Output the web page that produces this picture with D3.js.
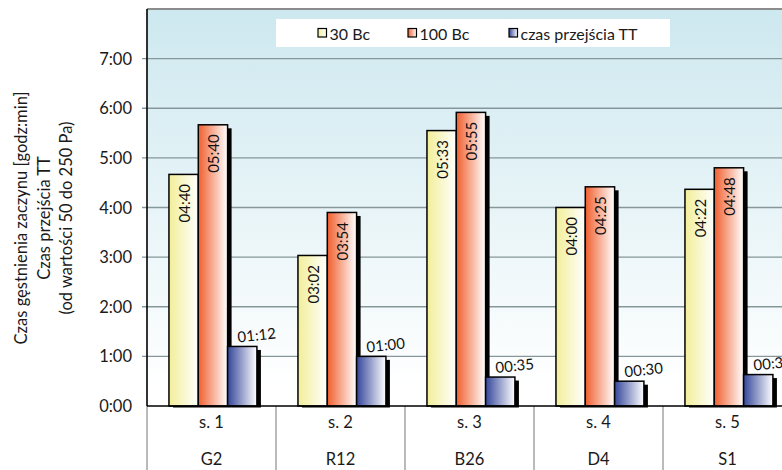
<!DOCTYPE html>
<html>
<head>
<meta charset="utf-8">
<script src="https://cdn.jsdelivr.net/npm/d3@7"></script>
<style>
  html, body { margin: 0; padding: 0; background: #ffffff; }
  svg { display: block; font-family: Lato, "Open Sans", sans-serif; }
</style>
</head>
<body>
<svg id="chart" width="782" height="470"></svg>
<script>
// Sample codes (upper row) and cement names (lower row)
const samples = ["s. 1", "s. 2", "s. 3", "s. 4", "s. 5"];
const cements = ["G2", "R12", "B26", "D4", "S1"];
// Thickening times, hh:mm
const bc30 = ["04:40", "03:02", "05:33", "04:00", "04:22"];
const bc100 = ["05:40", "03:54", "05:55", "04:25", "04:48"];
const transitionTT = ["01:12", "01:00", "00:35", "00:30", "00:38"];
const seriesNames = ["30 Bc", "100 Bc", "czas przejścia TT"];
const yTicks = ["0:00", "1:00", "2:00", "3:00", "4:00", "5:00", "6:00", "7:00"];
const yTitle = ["Czas gęstnienia zaczynu [godz:min]", "Czas przejścia TT", "(od wartości 50 do 250 Pa)"];

const toHours = s => { const [h, m] = s.split(":").map(Number); return h + m / 60; };

const seriesKeys = ["s30", "s100", "sTT"];
const seriesData = { s30: bc30, s100: bc100, sTT: transitionTT };
const seriesColor = { s30: "#f2ee98", s100: "#f05f2e", sTT: "#34469a" };

const svg = d3.select("#chart");
const defs = svg.append("defs");

// Horizontal fade-to-white fills for the bars
seriesKeys.forEach(k => {
  const g = defs.append("linearGradient").attr("id", "grad-" + k)
    .attr("x1", "0").attr("x2", "1").attr("y1", "0").attr("y2", "0");
  g.append("stop").attr("offset", "0").attr("stop-color", seriesColor[k]);
  g.append("stop").attr("offset", "1").attr("stop-color", "#ffffff");
});
// Plot background: pale blue at the top fading to white
const bg = defs.append("linearGradient").attr("id", "plotBg")
  .attr("x1", "0").attr("x2", "0").attr("y1", "0").attr("y2", "1");
bg.append("stop").attr("offset", "0").attr("stop-color", "#cde8ef");
bg.append("stop").attr("offset", "0.95").attr("stop-color", "#ffffff");

const plotLeft = 147, plotTop = 9, plotBottom = 406, plotRight = 792;

const x0 = d3.scaleBand().domain(samples).range([plotLeft, plotRight]).padding(0);
const x1 = d3.scaleBand().domain(seriesKeys).range([0, x0.bandwidth()])
  .paddingInner(0).paddingOuter(0.70).align(0.535);
const y = d3.scaleLinear().domain([0, 8]).range([plotBottom, plotTop]);

// Plot area background
svg.append("rect").attr("x", plotLeft).attr("y", plotTop).attr("width", plotRight - plotLeft)
  .attr("height", plotBottom - plotTop).attr("fill", "url(#plotBg)");

// Horizontal gridlines with short ticks on the left
svg.append("g").selectAll("line").data(yTicks.slice(1).map(toHours)).join("line")
  .attr("x1", plotLeft - 5).attr("x2", plotRight)
  .attr("y1", d => y(d)).attr("y2", d => y(d))
  .attr("stroke", "#86979a").attr("stroke-width", 1.4);

// Top frame
svg.append("line").attr("x1", plotLeft).attr("x2", plotRight).attr("y1", plotTop).attr("y2", plotTop)
  .attr("stroke", "#8c8c8c").attr("stroke-width", 2);

// Y tick labels
svg.append("g").selectAll("text").data(yTicks).join("text")
  .attr("x", 132).attr("y", d => y(toHours(d)))
  .attr("text-anchor", "end").attr("dominant-baseline", "central")
  .attr("font-size", 16.5).attr("fill", "#1a1a1a").text(d => d);

// Y axis title (three rotated lines)
const titleX = [21, 44, 66];
svg.append("g").selectAll("text").data(yTitle).join("text")
  .attr("transform", (d, i) => `translate(${titleX[i]},218) rotate(-90)`)
  .attr("text-anchor", "middle").attr("dominant-baseline", "central")
  .attr("font-size", 16.5).attr("fill", "#1a1a1a").text(d => d);

// Category table below the axis
svg.append("g").selectAll("line").data(samples).join("line")
  .attr("x1", d => x0(d)).attr("x2", d => x0(d))
  .attr("y1", plotBottom).attr("y2", 470)
  .attr("stroke", "#8c8c8c").attr("stroke-width", 1.2);
svg.append("g").selectAll("text").data(samples).join("text")
  .attr("x", d => x0(d) + x0.bandwidth() / 2).attr("y", 427.5)
  .attr("text-anchor", "middle").attr("font-size", 16.5).attr("fill", "#1a1a1a").text(d => d);
svg.append("g").selectAll("text").data(cements).join("text")
  .attr("x", (d, i) => x0(samples[i]) + x0.bandwidth() / 2).attr("y", 464.5)
  .attr("text-anchor", "middle").attr("font-size", 16.5).attr("fill", "#1a1a1a").text(d => d);

// Bars: each series gets a black drop shadow, then the gradient bar
const bars = svg.append("g");
seriesKeys.forEach(k => {
  const vals = seriesData[k];
  const g = bars.append("g");
  samples.forEach((s, i) => {
    const v = toHours(vals[i]);
    const bx = x0(s) + x1(k), bw = x1.bandwidth(), by = y(v);
    g.append("rect").attr("x", bx + 4).attr("y", by + 3.5)
      .attr("width", bw).attr("height", plotBottom + 1.5 - (by + 3.5))
      .attr("fill", "#000");
    g.append("rect").attr("x", bx).attr("y", by)
      .attr("width", bw).attr("height", plotBottom - by)
      .attr("fill", `url(#grad-${k})`).attr("stroke", "#000").attr("stroke-width", 1.5);
  });
});

// Axis lines
svg.append("line").attr("x1", plotLeft).attr("x2", plotRight).attr("y1", plotBottom).attr("y2", plotBottom)
  .attr("stroke", "#000").attr("stroke-width", 1.6);
svg.append("line").attr("x1", plotLeft).attr("x2", plotLeft).attr("y1", plotTop).attr("y2", plotBottom)
  .attr("stroke", "#000").attr("stroke-width", 1.6);

// Value labels: vertical inside the tall bars, tilted above the short ones
const labels = svg.append("g").attr("font-size", 15).attr("fill", "#111");
["s30", "s100"].forEach(k => {
  samples.forEach((s, i) => {
    const v = toHours(seriesData[k][i]);
    const cx = x0(s) + x1(k) + x1.bandwidth() / 2;
    labels.append("text")
      .attr("transform", `translate(${cx},${y(v) + 9.5}) rotate(-90)`)
      .attr("text-anchor", "end").attr("dominant-baseline", "central")
      .text(seriesData[k][i]);
  });
});
samples.forEach((s, i) => {
  const v = toHours(transitionTT[i]);
  const cx = x0(s) + x1("sTT") + x1.bandwidth() / 2 + 15;
  labels.append("text")
    .attr("transform", `translate(${cx},${y(v) - 6}) rotate(-6)`)
    .attr("text-anchor", "middle")
    .text(transitionTT[i]);
});

// Legend
const legend = svg.append("g");
legend.append("rect").attr("x", 276).attr("y", 19).attr("width", 394).attr("height", 28)
  .attr("fill", "#ffffff");
const legendX = [318, 408, 509];
seriesKeys.forEach((k, i) => {
  legend.append("rect").attr("x", legendX[i]).attr("y", 28.5).attr("width", 8.5).attr("height", 8.5)
    .attr("fill", `url(#grad-${k})`).attr("stroke", "#000").attr("stroke-width", 1.2);
  legend.append("text").attr("x", legendX[i] + 11.5).attr("y", 33)
    .attr("dominant-baseline", "central").attr("font-size", 16).attr("fill", "#1a1a1a")
    .text(seriesNames[i]);
});
</script>
</body>
</html>
